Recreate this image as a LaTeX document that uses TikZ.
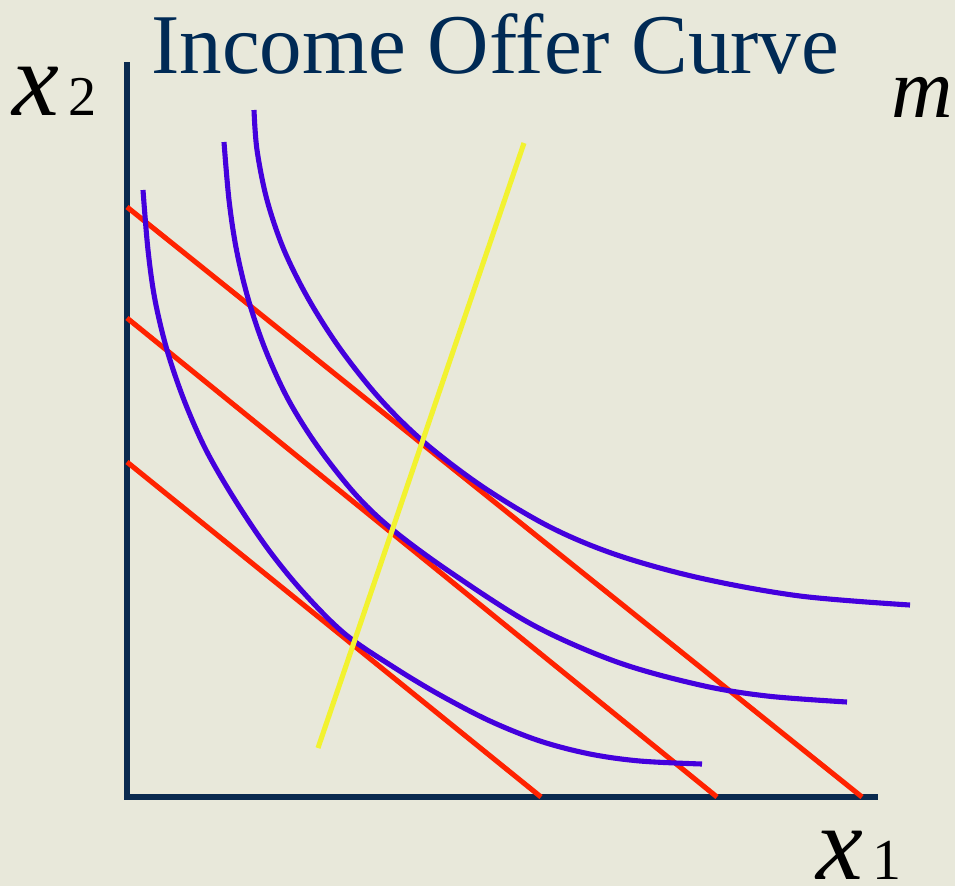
\documentclass[tikz,border=0pt]{standalone}
\usepackage{fontspec}
\setmainfont{Liberation Serif}
\newfontfamily\timesfont{Liberation Serif}
\definecolor{bgcol}{HTML}{E8E8DA}
\definecolor{navy}{HTML}{002A55}
\definecolor{axiscol}{HTML}{0A2A4F}
\definecolor{icblue}{HTML}{4400DD}
\definecolor{budgetred}{HTML}{FF2200}
\definecolor{offeryellow}{HTML}{F2F230}
\tikzset{
  axisline/.style={draw=axiscol, line width=3.3pt},
  budget/.style={draw=budgetred, line width=2.9pt},
  indiff/.style={draw=icblue, line width=2.9pt},
  offer/.style={draw=offeryellow, line width=2.9pt},
  lbl/.style={inner sep=0pt, anchor=base west, font=\timesfont},
}
\begin{document}
\begin{tikzpicture}[x=0.02cm, y=-0.02cm]
\fill[bgcol] (0,0) rectangle (955,886);
\useasboundingbox (0,0) rectangle (955,886);

% title and labels
\node[lbl, text=navy] (title) at (151,73) {\fontsize{48.4pt}{50pt}\selectfont Income Offer Curve};
\node[lbl] (xtwo) at (12,115) {\fontsize{60pt}{60pt}\selectfont\itshape x\fontsize{32pt}{32pt}\selectfont\upshape\,2};
\node[lbl] (mlab) at (891,117) {\fontsize{48.5pt}{50pt}\selectfont\itshape m};
\node[lbl] (xone) at (816,879) {\fontsize{60pt}{60pt}\selectfont\itshape x\fontsize{33pt}{34pt}\selectfont\upshape\,1};

% axes
\coordinate (top) at (127,62);
\coordinate (origin) at (127,797);
\coordinate (right) at (878,797);
\draw[axisline] (top) -- (origin) -- (right);

% budget lines
\coordinate (b1s) at (127,207); \coordinate (b1e) at (862,797);
\coordinate (b2s) at (127,318); \coordinate (b2e) at (717,797);
\coordinate (b3s) at (127,462); \coordinate (b3e) at (541,797);
\draw[budget] (b1s) -- (b1e);
\draw[budget] (b2s) -- (b2e);
\draw[budget] (b3s) -- (b3e);

% indifference curves
\draw[indiff] plot[smooth, tension=0.55] coordinates {
  (143,190) (148,250) (155,300) (167,350) (184,400) (206,450) (235,500)
  (268,549) (303,592) (345,634) (395,668) (440,695) (490,721) (540,741)
  (590,754) (640,761) (702,764)};
\draw[indiff] plot[smooth, tension=0.55] coordinates {
  (224,142) (229,200) (236.5,250) (248.5,300) (265.5,350) (288.5,400) (318,447)
  (356,495) (393,530) (450,572) (533,625) (617,662) (700,685) (767,696) (847,702)};
\draw[indiff] plot[smooth, tension=0.55] coordinates {
  (254,110) (257,150) (267,200) (284,250) (309,300) (341,350) (381,400)
  (425,443) (483,487) (550,527) (617,555) (700,578) (800,596) (910,605)};

% income offer curve
\coordinate (ys) at (318,748);
\coordinate (ye) at (524,143);
\draw[offer] (ys) -- (ye);
\end{tikzpicture}
\end{document}
